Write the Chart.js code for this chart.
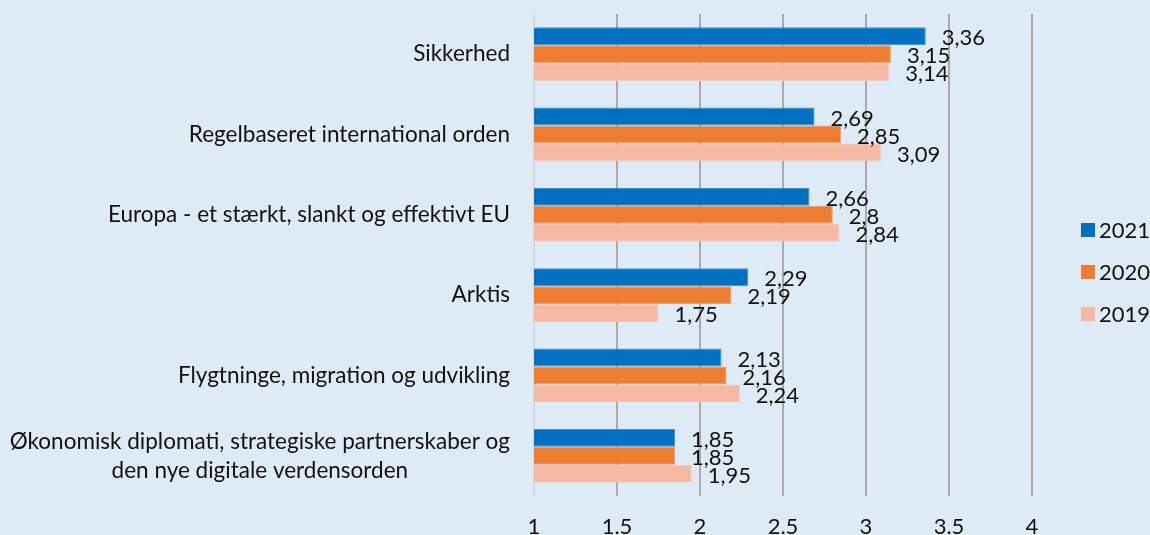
<!DOCTYPE html>
<html>
<head>
    <title>Prioriteter</title>
    <script src="https://cdn.jsdelivr.net/npm/chart.js@4.4.1/dist/chart.umd.min.js"></script>
    <style>
        html, body { margin: 0; padding: 0; background: #deeaf6; }
        #wrap { width: 1150px; height: 535px; }
    </style>
</head>
<body>
    <div id="wrap"><canvas id="prio-chart" width="1150" height="535"></canvas></div>

    <script>
        var categories = [
            'Sikkerhed',
            'Regelbaseret international orden',
            'Europa - et stærkt, slankt og effektivt EU',
            'Arktis',
            'Flygtninge, migration og udvikling',
            ['Økonomisk diplomati, strategiske partnerskaber og', 'den nye digitale verdensorden']
        ];
        var years = ['2021', '2020', '2019'];
        var values2021 = [3.36, 2.69, 2.66, 2.29, 2.13, 1.85];
        var values2020 = [3.15, 2.85, 2.8, 2.19, 2.16, 1.85];
        var values2019 = [3.14, 3.09, 2.84, 1.75, 2.24, 1.95];
        var xTicks = [1, 1.5, 2, 2.5, 3, 3.5, 4];

        var FONT = 'Lato';
        var FONT_SIZE = 22;

        // value labels at the end of each bar, Danish decimal comma
        var valueLabels = {
            id: 'valueLabels',
            afterDatasetsDraw: function(chart) {
                var ctx = chart.ctx;
                ctx.save();
                ctx.font = FONT_SIZE + 'px ' + FONT;
                ctx.fillStyle = '#111';
                ctx.textAlign = 'left';
                ctx.textBaseline = 'middle';
                chart.data.datasets.forEach(function(ds, i) {
                    var meta = chart.getDatasetMeta(i);
                    meta.data.forEach(function(bar, j) {
                        var txt = String(ds.data[j]).replace('.', ',');
                        ctx.fillText(txt, bar.x + 16, bar.y + 2);
                    });
                });
                ctx.restore();
            }
        };

        // category labels, lines centred on each other and right aligned as a block
        var categoryLabels = {
            id: 'categoryLabels',
            afterDraw: function(chart) {
                var ctx = chart.ctx;
                var yScale = chart.scales.y;
                var right = chart.chartArea.left - 24;
                var lineH = 29;
                ctx.save();
                ctx.font = '22.5px ' + FONT;
                ctx.fillStyle = '#111';
                ctx.textAlign = 'center';
                ctx.textBaseline = 'middle';
                categories.forEach(function(cat, i) {
                    var lines = Array.isArray(cat) ? cat : [cat];
                    var w = 0;
                    lines.forEach(function(l) { w = Math.max(w, ctx.measureText(l).width); });
                    var cx = right - w / 2;
                    var cy = yScale.getPixelForValue(i);
                    var top = cy - (lines.length - 1) * lineH / 2;
                    lines.forEach(function(l, k) {
                        ctx.fillText(l, cx, top + k * lineH);
                    });
                });
                ctx.restore();
            }
        };

        // legend on the right, square swatch + year
        var sideLegend = {
            id: 'sideLegend',
            afterDraw: function(chart) {
                var ctx = chart.ctx;
                var area = chart.chartArea;
                var x = area.right + 49;
                var y0 = (area.top + area.bottom) / 2 - 25;
                ctx.save();
                ctx.font = FONT_SIZE + 'px ' + FONT;
                ctx.textAlign = 'left';
                ctx.textBaseline = 'middle';
                chart.data.datasets.forEach(function(ds, i) {
                    var y = y0 + i * 42;
                    ctx.fillStyle = ds.backgroundColor;
                    ctx.fillRect(x, y - 7, 14, 14);
                    ctx.fillStyle = '#111';
                    ctx.fillText(ds.label, x + 18, y + 1);
                });
                ctx.restore();
            }
        };

        var ctx = document.getElementById('prio-chart').getContext('2d');
        var prioChart = new Chart(ctx, {
            type: 'bar',
            data: {
                labels: categories,
                datasets: [{
                    label: years[0],
                    data: values2021,
                    backgroundColor: '#0070c0',
                    borderColor: '#3d8fd0',
                    borderWidth: 1
                }, {
                    label: years[1],
                    data: values2020,
                    backgroundColor: '#ed7d31',
                    borderColor: '#f09a5e',
                    borderWidth: 1
                }, {
                    label: years[2],
                    data: values2019,
                    backgroundColor: '#f4b8a5',
                    borderColor: '#f6c8b9',
                    borderWidth: 1
                }]
            },
            options: {
                indexAxis: 'y',
                responsive: false,
                animation: false,
                categoryPercentage: 0.67,
                barPercentage: 1,
                layout: {
                    padding: { top: 14, right: 118, left: 0, bottom: 0 }
                },
                scales: {
                    x: {
                        min: 1,
                        max: 4,
                        afterBuildTicks: function(scale) {
                            scale.ticks = xTicks.map(function(v) { return { value: v }; });
                        },
                        afterFit: function(scale) {
                            scale.height = 39;
                        },
                        border: { display: false },
                        grid: {
                            drawTicks: false,
                            lineWidth: 2,
                            color: function(c) {
                                return c.tick && c.tick.value === 1 ? '#d6d9dc' : '#a9a9a9';
                            }
                        },
                        ticks: {
                            padding: 18,
                            color: '#111',
                            font: { family: FONT, size: FONT_SIZE },
                            callback: function(v) { return String(v); }
                        }
                    },
                    y: {
                        afterFit: function(scale) {
                            scale.width = 534;
                        },
                        border: { display: false },
                        grid: { display: false },
                        ticks: { display: false }
                    }
                },
                plugins: {
                    legend: { display: false },
                    tooltip: { enabled: false }
                }
            },
            plugins: [valueLabels, categoryLabels, sideLegend]
        });
    </script>
</body>
</html>
